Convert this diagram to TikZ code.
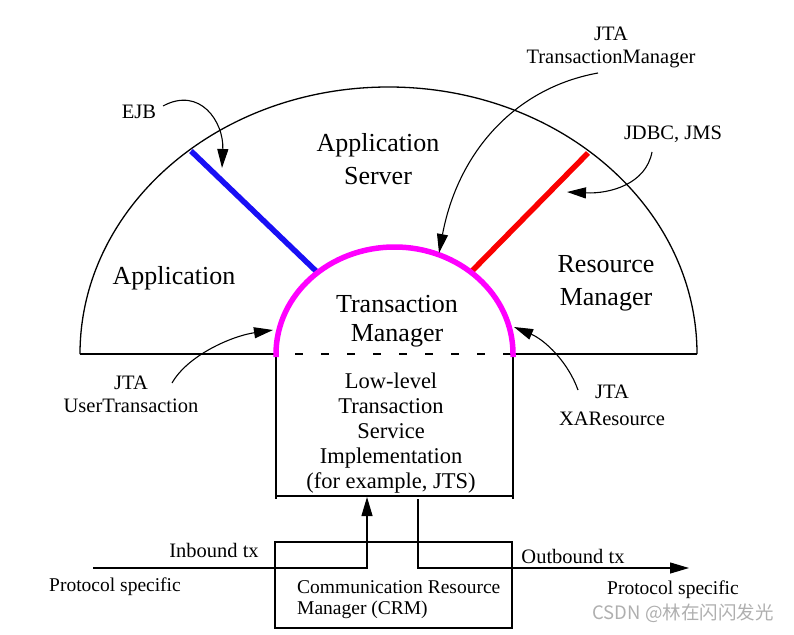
\documentclass[tikz,border=0pt]{standalone}
\usepackage{fontspec}
\setmainfont{Liberation Serif}
\newfontfamily\cjkfont{Noto Sans CJK SC}
\usetikzlibrary{arrows.meta}
\definecolor{tmmag}{RGB}{255,0,255}
\definecolor{ejbblue}{RGB}{25,15,245}
\definecolor{rmred}{RGB}{250,0,0}
\definecolor{wmgray}{RGB}{175,175,175}
\begin{document}
\begin{tikzpicture}[x=1pt,y=-1pt,
  frameline/.style={line width=1.3pt},
  thickline/.style={line width=5.5pt},
  arr/.style={line width=1.1pt,-{Triangle[length=19pt,width=11pt]}},
  bigtxt/.style={font=\fontsize{26}{33}\selectfont,align=center,inner sep=0pt},
  midtxt/.style={font=\fontsize{22.5}{24.8}\selectfont,align=center,inner sep=0pt},
  lbltxt/.style={font=\fontsize{20.5}{23}\selectfont,align=center,inner sep=0pt},
  smalltxt/.style={font=\fontsize{19.5}{21}\selectfont,inner sep=0pt}]
\useasboundingbox (0,0) rectangle (794,634);

% outer half ellipse and base line
\draw[frameline] (80,354) arc[start angle=180,end angle=0,x radius=308.5pt,y radius=267pt];
\draw[frameline] (80,354) -- (276,354);
\draw[frameline] (513,354) -- (697,354);
\draw[frameline,dash pattern=on 8pt off 18pt] (295,354) -- (513,354);

% low-level box
\draw[frameline] (276,354) -- (276,499);
\draw[frameline] (513,354) -- (513,499);
\draw[frameline] (276,496) -- (513,496);

% CRM box
\draw[frameline] (275,542) rectangle (512,628);

% blue and red connectors
\draw[thickline,ejbblue] (191,151) -- (317,272);
\draw[thickline,rmred] (588,153) -- (471,272);

% magenta transaction manager arc
\draw[thickline,tmmag] (276,357) -- (276,354) arc[start angle=180,end angle=0,x radius=118.5pt,y radius=107pt] -- (513,357);

% texts
\node[bigtxt] (appserver) at (378,159) {Application\\Server};
\node[bigtxt] (app) at (174,278) {Application};
\node[bigtxt] (rm) at (606,283) {Resource\\Manager};
\node[bigtxt,font=\fontsize{26}{28.5}\selectfont] (tm) at (397,321) {Transaction\\Manager};
\node[lbltxt] (ejb) at (139,112) {EJB};
\node[lbltxt] (jtatm) at (611,47) {JTA\\TransactionManager};
\node[lbltxt] (jdbc) at (673,134) {JDBC, JMS};
\node[lbltxt] (jtaut) at (131,394) {JTA\\UserTransaction};
\node[lbltxt,font=\fontsize{20.5}{27}\selectfont] (jtaxa) at (612,405) {JTA\\XAResource};
\node[midtxt] (lowlevel) at (391,433) {Low-level\\Transaction\\Service\\Implementation\\(for example, JTS)};
\node[lbltxt] (inbound) at (214,550) {Inbound tx};
\node[lbltxt] (outbound) at (573,556) {Outbound tx};
\node[smalltxt] (protoL) at (115,587) {Protocol specific};
\node[smalltxt] (protoR) at (673,590) {Protocol specific};
\node[smalltxt,align=left,anchor=west] (crm) at (297,600) {Communication Resource\\Manager (CRM)};
\node[inner sep=0pt,text=wmgray,font=\cjkfont\fontsize{18.5}{20}\selectfont] (wm) at (683,613) {CSDN @林在闪闪发光};

% curved label arrows
\coordinate (ejbS) at (163,106);
\coordinate (ejbT) at (222,168);
\draw[arr] (ejbS) .. controls (200,86) and (224,122) .. (ejbT);
\coordinate (tmS) at (598,73);
\coordinate (tmT) at (439,253);
\draw[arr] (tmS) .. controls (515,88) and (458,152) .. (tmT);
\coordinate (jdS) at (652,152);
\coordinate (jdT) at (567,192);
\draw[arr] (jdS) .. controls (646,184) and (610,194) .. (jdT);
\coordinate (utS) at (172,383);
\coordinate (utT) at (273,330);
\draw[arr] (utS) .. controls (188,355) and (232,336) .. (utT);
\coordinate (xaS) at (578,390);
\coordinate (xaT) at (514,327);
\draw[arr] (xaS) .. controls (568,362) and (545,340) .. (xaT);

% inbound / outbound flow
\coordinate (inA) at (93,568);
\coordinate (inB) at (367,568);
\coordinate (inT) at (367,497);
\draw[arr] (inA) -- (inB) -- (inT);
\coordinate (outA) at (418,499);
\coordinate (outB) at (418,568);
\coordinate (outT) at (689,568);
\draw[arr] (outA) -- (outB) -- (outT);
\end{tikzpicture}
\end{document}
